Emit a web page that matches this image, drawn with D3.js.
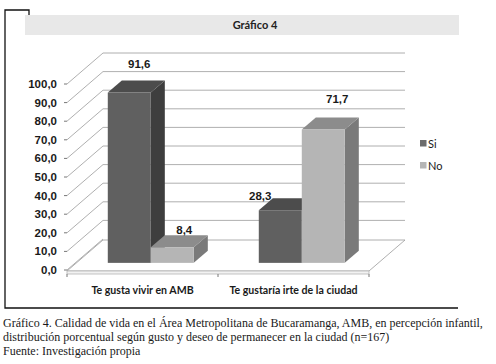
<!DOCTYPE html>
<html lang="es">
<head>
<meta charset="UTF-8"/>
<title>Gráfico 4</title>
<script src="https://d3js.org/d3.v7.js"></script>
<style>
  body { margin: 0; background: #fff; }
  svg { display: block; }
</style>
</head>
<body>
<div id="chart"></div>
<script>
// data
const categories = ["Te gusta vivir en AMB", "Te gustaría irte de la ciudad"];
const series = ["Si", "No"];
const siValues = [91.6, 28.3];
const noValues = [8.4, 71.7];
const yTicks = [0, 10, 20, 30, 40, 50, 60, 70, 80, 90, 100];
const captionLines = [
  "Gráfico 4. Calidad de vida en el Área Metropolitana de Bucaramanga, AMB, en percepción infantil,",
  "distribución porcentual según gusto y deseo de permanecer en la ciudad (n=167)",
  "Fuente: Investigación propia"
];

const W = 496, H = 364;
const svg = d3.select("#chart").append("svg")
  .attr("width", W).attr("height", H);

// outer frame (open on the right)
svg.append("path")
  .attr("d", "M29,15 V10 H5 V308 H458")
  .attr("fill", "none").attr("stroke", "#111").attr("stroke-width", 1.3);

// title band
svg.append("rect").attr("x", 25).attr("y", 15).attr("width", 434).attr("height", 20)
  .attr("fill", "#e8e8e8");
svg.append("text").attr("x", 255).attr("y", 28.5).attr("text-anchor", "middle")
  .attr("font-family", "Lato, 'Liberation Sans', sans-serif").attr("font-weight", "bold")
  .attr("font-size", 11).attr("fill", "#222").text("Gráfico 4");

// 3d geometry
const left = 67, right = 369;
const depth = {dx: 36, dy: -31};
const fFront = 0.23, fBack = 0.62;

const y = d3.scaleLinear().domain([0, 100]).range([270, 84]);
const x0 = d3.scaleBand().domain(categories).range([left, right]).padding(0);
const x1 = d3.scaleBand().domain(series).range([0, x0.bandwidth()]).paddingInner(0).paddingOuter(0.756);

const grid = svg.append("g");
// floor
grid.append("path")
  .attr("d", `M${left},${y(0)+1} H${right} L${right+depth.dx},${y(0)+1+depth.dy} H${left+depth.dx} Z`)
  .attr("fill", "#fff").attr("stroke", "#9a9a9a").attr("stroke-width", 0.8);
grid.append("rect").attr("x", left).attr("y", y(0)+1).attr("width", right-left).attr("height", 3)
  .attr("fill", "#f2f2f2").attr("stroke", "#b5b5b5").attr("stroke-width", 0.8);

// side wall diagonals + back wall grid
yTicks.forEach(t => {
  grid.append("line")
    .attr("x1", left).attr("y1", y(t))
    .attr("x2", left+depth.dx).attr("y2", y(t)+depth.dy)
    .attr("stroke", "#9a9a9a").attr("stroke-width", 0.8);
  if (t > 0) grid.append("line")
    .attr("x1", left+depth.dx).attr("y1", y(t)+depth.dy)
    .attr("x2", right+depth.dx).attr("y2", y(t)+depth.dy)
    .attr("stroke", "#9a9a9a").attr("stroke-width", 0.8);
});

// y axis labels + ticks
const yAxis = svg.append("g");
yAxis.selectAll("line").data(yTicks).join("line")
  .attr("x1", left-3).attr("x2", left).attr("y1", d => y(d)).attr("y2", d => y(d))
  .attr("stroke", "#777");
yAxis.selectAll("text").data(yTicks).join("text")
  .attr("x", 57).attr("y", d => y(d)+4).attr("text-anchor", "end")
  .attr("font-family", "'Liberation Sans', Arial, sans-serif").attr("font-weight", "bold")
  .attr("font-size", 11.5).attr("fill", "#1a1a1a")
  .text(d => d3.format(".1f")(d).replace(".", ","));

// x ticks + labels
const xEdges = [left, left + x0.bandwidth(), right];
svg.append("g").selectAll("line").data(xEdges).join("line")
  .attr("x1", d => d).attr("x2", d => d).attr("y1", y(0)+4).attr("y2", y(0)+7)
  .attr("stroke", "#777");
svg.append("g").selectAll("text").data(categories).join("text")
  .attr("x", d => x0(d) + x0.bandwidth()/2).attr("y", 294).attr("text-anchor", "middle")
  .attr("font-family", "Lato, 'Liberation Sans', sans-serif").attr("font-weight", "bold")
  .attr("font-size", 10.6).attr("fill", "#1a1a1a").text(d => d);

// bars
const colors = {
  Si: {front: "#606060", top: "#4c4c4c", side: "#3e3e3e"},
  No: {front: "#b5b5b5", top: "#8c8c8c", side: "#7a7a7a"}
};
const bars = [];
categories.forEach((c, i) => {
  bars.push({cat: c, s: "Si", v: siValues[i]});
  bars.push({cat: c, s: "No", v: noValues[i]});
});
const fx = depth.dx*fFront, fy = depth.dy*fFront;
const bx = depth.dx*(fBack-fFront), by = depth.dy*(fBack-fFront);
const bw = x1.bandwidth();

const barG = svg.append("g");
bars.forEach(b => {
  const xl = x0(b.cat) + x1(b.s) + fx;
  const yt = y(b.v) + fy, yb = y(0) + fy;
  const c = colors[b.s];
  // side
  barG.append("path")
    .attr("d", `M${xl+bw},${yt} L${xl+bw+bx},${yt+by} V${yb+by} L${xl+bw},${yb} Z`)
    .attr("fill", c.side);
  // top
  barG.append("path")
    .attr("d", `M${xl},${yt} L${xl+bx},${yt+by} H${xl+bw+bx} L${xl+bw},${yt} Z`)
    .attr("fill", c.top);
  // front
  barG.append("rect").attr("x", xl).attr("y", yt).attr("width", bw).attr("height", yb-yt)
    .attr("fill", c.front);
  b.cx = xl + bw/2; b.yt = yt;
});

// data labels (nudged like the original excel 3d placement)
const labelNudge = [[10, -24], [12, -13], [-20, -10], [14, -27]];
svg.append("g").selectAll("text").data(bars).join("text")
  .attr("x", (d, i) => d.cx + labelNudge[i][0]).attr("y", (d, i) => d.yt + labelNudge[i][1])
  .attr("text-anchor", "middle")
  .attr("font-family", "'Liberation Sans', Arial, sans-serif").attr("font-weight", "bold")
  .attr("font-size", 11.5).attr("fill", "#1a1a1a")
  .text(d => d3.format(".1f")(d.v).replace(".", ","));

// legend
const legend = svg.append("g").attr("transform", "translate(420,140)");
series.forEach((s, i) => {
  legend.append("rect").attr("x", 0).attr("y", i*22).attr("width", 6.5).attr("height", 6.5)
    .attr("fill", s === "Si" ? "#6c6c6c" : "#b5b5b5");
  legend.append("text").attr("x", 8).attr("y", i*22+7.5)
    .attr("font-family", "Lato, 'Liberation Sans', sans-serif")
    .attr("font-size", 11).attr("fill", "#1a1a1a").text(s);
});

// caption
svg.append("g").selectAll("text").data(captionLines).join("text")
  .attr("x", 3).attr("y", (d, i) => 327 + i*14)
  .attr("font-family", "'Liberation Serif', 'DejaVu Serif', serif")
  .attr("font-size", 12).attr("fill", "#1a1a1a").text(d => d);
</script>
</body>
</html>
